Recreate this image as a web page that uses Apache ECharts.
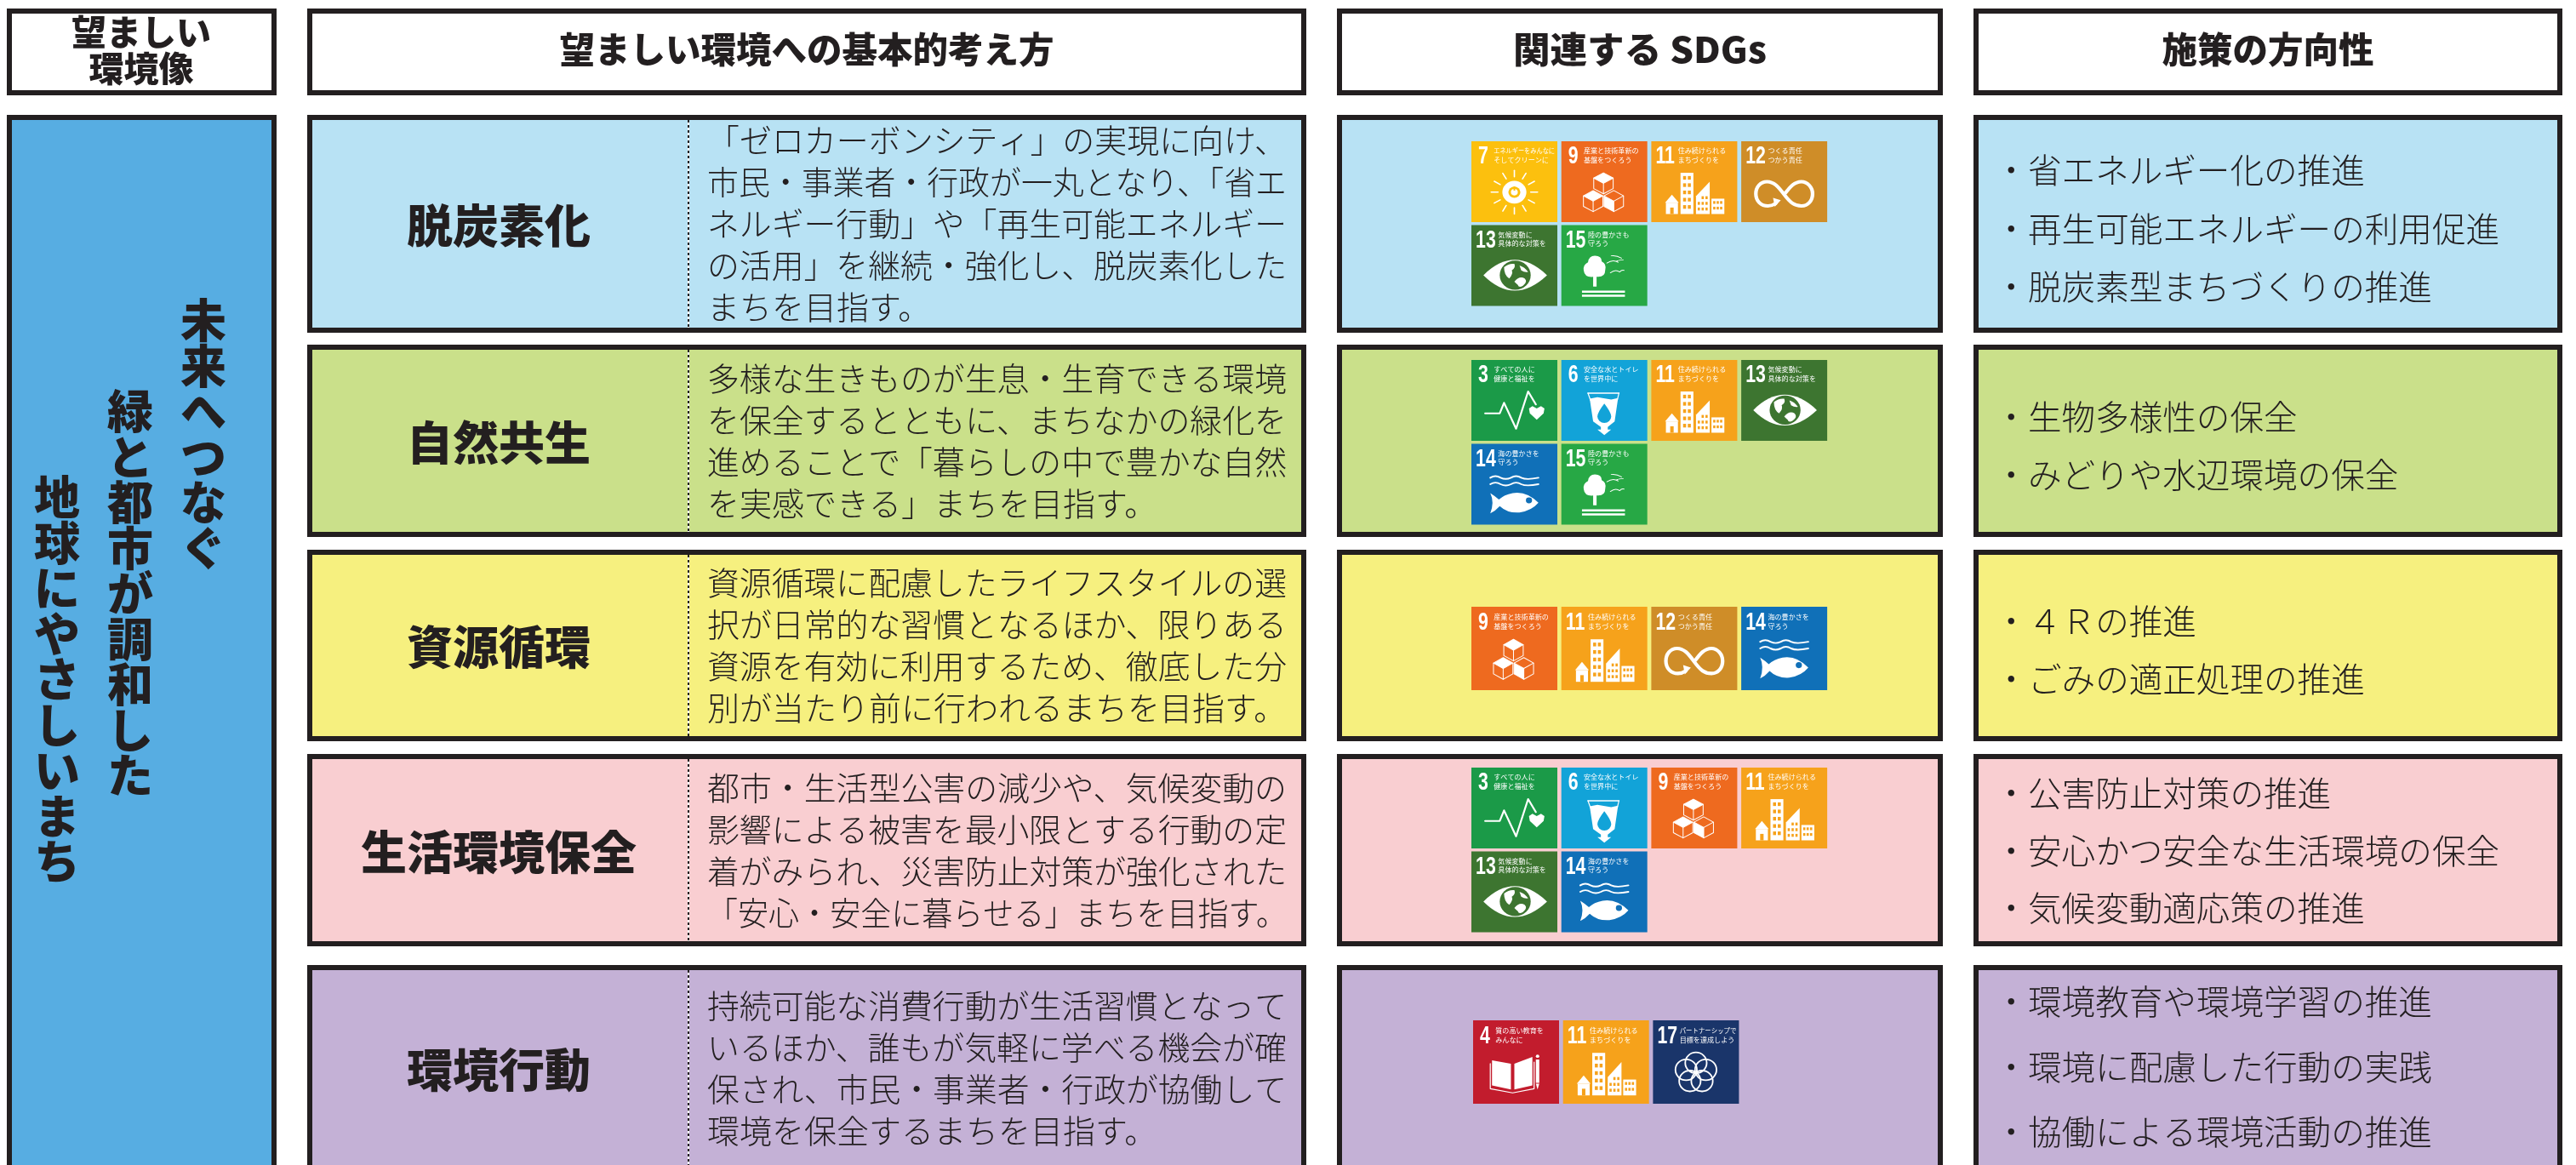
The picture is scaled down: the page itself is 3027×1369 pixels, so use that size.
<!DOCTYPE html>
<html lang="ja">
<head>
<meta charset="utf-8">
<title>望ましい環境像</title>
<style>
  html, body { margin: 0; padding: 0; background: #fff; }
  #main { width: 3027px; height: 1369px; }
</style>
<script src="https://cdn.jsdelivr.net/npm/echarts@6/dist/echarts.min.js"></script>
</head>
<body>
<div id="main"></div>
<script>
// ---- content ----
const headerLeft = ['望ましい', '環境像'];
const headers = ['望ましい環境への基本的考え方', '関連する SDGs', '施策の方向性'];
const visionColumns = ['未来へつなぐ', '緑と都市が調和した', '地球にやさしいまち'];
const rowNames = ['脱炭素化', '自然共生', '資源循環', '生活環境保全', '環境行動'];
const rowTexts = [
  ['「ゼロカーボンシティ」の実現に向け、', '市民・事業者・行政が一丸となり、「省エ', 'ネルギー行動」や「再生可能エネルギー', 'の活用」を継続・強化し、脱炭素化した', 'まちを目指す。'],
  ['多様な生きものが生息・生育できる環境', 'を保全するとともに、まちなかの緑化を', '進めることで「暮らしの中で豊かな自然', 'を実感できる」まちを目指す。'],
  ['資源循環に配慮したライフスタイルの選', '択が日常的な習慣となるほか、限りある', '資源を有効に利用するため、徹底した分', '別が当たり前に行われるまちを目指す。'],
  ['都市・生活型公害の減少や、気候変動の', '影響による被害を最小限とする行動の定', '着がみられ、災害防止対策が強化された', '「安心・安全に暮らせる」まちを目指す。'],
  ['持続可能な消費行動が生活習慣となって', 'いるほか、誰もが気軽に学べる機会が確', '保され、市民・事業者・行政が協働して', '環境を保全するまちを目指す。']
];
const rowGoals = [
  [7, 9, 11, 12, 13, 15],
  [3, 6, 11, 13, 14, 15],
  [9, 11, 12, 14],
  [3, 6, 9, 11, 13, 14],
  [4, 11, 17]
];
const rowMeasures = [
  ['・省エネルギー化の推進', '・再生可能エネルギーの利用促進', '・脱炭素型まちづくりの推進'],
  ['・生物多様性の保全', '・みどりや水辺環境の保全'],
  ['・４Ｒの推進', '・ごみの適正処理の推進'],
  ['・公害防止対策の推進', '・安心かつ安全な生活環境の保全', '・気候変動適応策の推進'],
  ['・環境教育や環境学習の推進', '・環境に配慮した行動の実践', '・協働による環境活動の推進']
];
const goalTitles = {
  3: ['すべての人に', '健康と福祉を'],
  4: ['質の高い教育を', 'みんなに'],
  6: ['安全な水とトイレ', 'を世界中に'],
  7: ['エネルギーをみんなに', 'そしてクリーンに'],
  9: ['産業と技術革新の', '基盤をつくろう'],
  11: ['住み続けられる', 'まちづくりを'],
  12: ['つくる責任', 'つかう責任'],
  13: ['気候変動に', '具体的な対策を'],
  14: ['海の豊かさを', '守ろう'],
  15: ['陸の豊かさも', '守ろう'],
  17: ['パートナーシップで', '目標を達成しよう']
};

// ---- styles ----
const INK = '#231f20';
const rowColors = ['#b8e2f4', '#cae08a', '#f6f07f', '#f9ced1', '#c4b1d6'];
const visionColor = '#57ade2';
const goalColors = {
  3: '#1b9a48', 4: '#c21c2d', 6: '#12a3d8', 7: '#fcc00e', 9: '#ee6a1f', 11: '#f6a21b',
  12: '#cf8d28', 13: '#3d7530', 14: '#1070b8', 15: '#27a845', 17: '#1a356a'
};
const JP = '"Noto Sans CJK JP", "Noto Sans", sans-serif';

// ---- layout (px) ----
const BORDER = 6;
const headerTop = 10, headerBottom = 112;
const headerStretch = [1, 1.05, 1];
const colLeft = [8, 361, 1571, 2319];
const colRight = [325, 1535, 2283, 3011];
const rowTop = [135, 405, 646, 886, 1134];
const rowBottom = [391, 631, 871, 1112, 1377];
const dividerX = 809;
const textX = 831, textWidth = 681, textPitch = 49;
const measureX = 2343.4;
const measureFirst = [200, 490, 730, 932, 1177];
const measurePitch = [68.5, 68, 68, 67.5, 76.5];
const tileLeft = [1729, 1729, 1729, 1729, 1731];
const tileTop = [166, 423, 713, 902, 1199];
const tileHeight = [95, 95, 98, 95, 98];
const tilePitchX = 105.7, tilePitchY = 98.5;

const measureCtx = document.createElement('canvas').getContext('2d');

function box(x1, y1, x2, y2, fill) {
  return [
    { type: 'rect', shape: { x: x1, y: y1, width: x2 - x1, height: y2 - y1 }, style: { fill: INK } },
    { type: 'rect', shape: { x: x1 + BORDER, y: y1 + BORDER, width: x2 - x1 - BORDER * 2, height: y2 - y1 - BORDER * 2 }, style: { fill: fill } }
  ];
}

function label(text, x, y, size, weight, align, extra) {
  return Object.assign({
    type: 'text', x: x, y: y,
    style: { text: text, fontSize: size, fontWeight: weight, fontFamily: JP, fill: INK, align: align || 'center', verticalAlign: 'middle' }
  }, extra || {});
}

// squeeze a line horizontally when it is wider than the room it has
function fitLabel(text, x, y, size, weight, maxWidth, fill) {
  measureCtx.font = weight + ' ' + size + 'px ' + JP;
  const w = measureCtx.measureText(text).width;
  const el = label(text, x, y, size, weight, 'left', { scaleX: w > maxWidth ? maxWidth / w : 1 });
  if (fill) el.style.fill = fill;
  return el;
}

// ---- SDG pictograms, drawn on a 100x100 tile ----
const white = { fill: '#fff' };
const line = w => ({ fill: 'none', stroke: '#fff', lineWidth: w, lineCap: 'round', lineJoin: 'round' });
// no width/height on the shape: the path stays in tile units
const path = (d, style) => ({ type: 'path', shape: { pathData: d }, style: style });
const dot = (cx, cy, r, style) => ({ type: 'circle', shape: { cx: cx, cy: cy, r: r }, style: style });
const block = (x, y, w, h, fill) => ({ type: 'rect', shape: { x: x, y: y, width: w, height: h }, style: { fill: fill || '#fff' } });
const poly = (pts, style) => ({ type: 'polygon', shape: { points: pts }, style: style });
const stroke = (pts, style) => ({ type: 'polyline', shape: { points: pts }, style: style });

function cube(cx, cy, r, faceFill) {
  const t = [cx, cy - r], tr = [cx + r * 0.87, cy - r / 2], br = [cx + r * 0.87, cy + r / 2];
  const b = [cx, cy + r], bl = [cx - r * 0.87, cy + r / 2], tl = [cx - r * 0.87, cy - r / 2], c = [cx, cy];
  const out = [];
  if (faceFill === 'top') out.push(poly([t, tr, c, tl], white));
  if (faceFill === 'left') out.push(poly([tl, c, b, bl], white));
  if (faceFill === 'right') out.push(poly([tr, c, b, br], white));
  out.push(poly([t, tr, br, b, bl, tl], line(1)), stroke([tl, c, tr], line(1)), stroke([c, b], line(1)));
  return out;
}

const pictograms = {
  3(color) {
    return [
      stroke([[16, 66], [33, 66], [38, 53], [52, 85], [66, 39], [75, 55]], line(2.2)),
      poly([[76, 74], [68, 66], [67, 60], [71, 57], [76, 60], [81, 57], [85, 60], [84, 66]], white)
    ];
  },
  4(color) {
    return [
      poly([[22, 48], [44, 52], [44, 83], [22, 78]], white),
      poly([[48, 52], [69, 44], [69, 78], [48, 83]], white),
      stroke([[20, 52], [20, 82], [46, 87], [71, 82], [71, 50]], line(1.2)),
      block(73, 47, 4, 28),
      poly([[73, 76], [77, 76], [75, 83]], white),
      dot(75, 43, 2, white)
    ];
  },
  6(color) {
    return [
      stroke([[31, 41], [67, 41]], line(1.6)),
      stroke([[31, 41], [34, 50]], line(1.2)),
      stroke([[67, 41], [65, 50]], line(1.2)),
      poly([[33, 48], [42, 46], [58, 49], [66, 47], [62, 76], [54, 83], [54, 86], [58, 86], [50, 93], [42, 86], [46, 86], [46, 83], [37, 76]], white),
      path('M50 54 Q58 65 58 70 A8 8 0 1 1 42 70 Q42 65 50 54 Z', { fill: color })
    ];
  },
  7(color) {
    const out = [dot(50, 63, 14, white), dot(50, 63, 7, { fill: color }), dot(50, 63, 4, white), block(49, 56, 2, 5, color)];
    for (let k = 0; k < 12; k++) {
      const a = k * Math.PI / 6;
      out.push(stroke([[50 + 19 * Math.cos(a), 63 + 19 * Math.sin(a)], [50 + 27 * Math.cos(a), 63 + 27 * Math.sin(a)]], line(1.6)));
    }
    return out;
  },
  9(color) {
    return [].concat(cube(49, 52, 13, 'top'), cube(37, 74, 13, 'top'), cube(61, 74, 13, 'left'));
  },
  11(color) {
    const out = [
      poly([[16, 76], [24, 66], [32, 76]], white), block(17, 76, 14, 14), block(22, 82, 4, 8, color),
      block(34, 39, 15, 51),
      poly([[52, 68], [68, 50], [68, 90], [52, 90]], white),
      block(70, 71, 15, 19)
    ];
    for (let r = 0; r < 5; r++) for (let c = 0; c < 2; c++) out.push(block(37 + c * 5.5, 43 + r * 9, 3.5, 4.5, color));
    for (let r = 0; r < 3; r++) for (let c = 0; c < 3; c++) if (c > 0 || r > 0) out.push(block(54 + c * 4.5, 68 + r * 7, 2.6, 3.6, color));
    for (let r = 0; r < 2; r++) for (let c = 0; c < 3; c++) out.push(block(72 + c * 4, 74 + r * 7, 2.6, 3.4, color));
    return out;
  },
  12(color) {
    return [
      path('M50 66 C43 56 38 50 30 50 C22 50 17 57 17 65 C17 74 23 80 31 80 C34 80 37 79 40 77 M50 66 C57 76 62 80 70 80 C78 80 83 73 83 65 C83 57 77 50 70 50 C62 50 57 56 50 66', line(4.2)),
      poly([[37, 70], [46, 73], [39, 81]], white)
    ];
  },
  13(color) {
    return [
      path('M14 62 Q50 24 88 62 Q50 100 14 62 Z', white),
      dot(51, 62, 18, { fill: color }),
      path('M38 52 Q44 47 50 48 Q52 53 47 56 Q49 60 44 66 Q38 62 38 52 Z M56 50 Q62 52 66 58 Q62 59 58 56 Z M50 70 Q56 62 62 66 Q66 70 60 75 Q55 78 54 74 Q52 72 50 70 Z', white)
    ];
  },
  14(color) {
    const wave = y => 'M22 ' + y + ' Q28 ' + (y - 4) + ' 34 ' + y + ' Q40 ' + (y + 3) + ' 46 ' + y + ' Q52 ' + (y - 4) + ' 58 ' + y + ' Q64 ' + (y + 3) + ' 78 ' + y;
    return [
      path(wave(42), line(2)),
      path(wave(50), line(2)),
      path('M78 73 Q64 58 48 61 Q38 63 32 69 Q28 65 22 61 Q27 72 22 86 Q28 83 33 77 Q42 86 56 85 Q70 83 78 73 Z', white),
      dot(67, 70, 3.6, { fill: color })
    ];
  },
  15(color) {
    return [
      path('M39 38 Q47 38 47 45 Q53 48 51 56 Q51 64 43 64 L41 64 L41 76 L37 76 L37 64 Q27 65 26 56 Q25 49 31 46 Q32 38 39 38 Z', white),
      path('M53 47 Q60 42 66 46 Q61 44 72 43', line(1)),
      path('M58 38 Q64 37 70 41', line(1)),
      path('M57 59 Q63 54 68 58 Q70 55 73 56', line(1)),
      block(24, 81, 50, 2.6),
      block(24, 86, 50, 2.6)
    ];
  },
  17(color) {
    const out = [];
    for (let k = 0; k < 5; k++) {
      const a = -Math.PI / 2 + k * 2 * Math.PI / 5;
      out.push(dot(50 + 12 * Math.cos(a), 63 + 12 * Math.sin(a), 12.5, { fill: 'none', stroke: '#fff', lineWidth: 1.8 }));
    }
    return out;
  }
};

function tile(goal, x, y, w, h) {
  const color = goalColors[goal];
  const two = goal > 9;
  const titleX = two ? 31 : 26;
  const children = [block(0, 0, 100, 100, color)].concat(pictograms[goal](color));
  children.push({
    type: 'text', x: two ? 5 : 8, y: 19, scaleX: 0.68,
    style: { text: String(goal), fontSize: 31, fontWeight: 'bold', fontFamily: '"Liberation Sans", sans-serif', fill: '#fff', align: 'left', verticalAlign: 'middle' }
  });
  goalTitles[goal].forEach((t, i) => {
    children.push(fitLabel(t, titleX, 12 + i * 11, 8, 'normal', 100 - titleX - 3, '#fff'));
  });
  return { type: 'group', x: x, y: y, scaleX: w / 100, scaleY: h / 100, children: children };
}

// ---- assemble ----
const elements = [];

elements.push(...box(colLeft[0], headerTop, colRight[0], headerBottom, '#fff'));
elements.push(label(headerLeft[0], 166, 37, 41, 900));
elements.push(label(headerLeft[1], 166, 80, 41, 900));
headers.forEach((h, i) => {
  elements.push(...box(colLeft[i + 1], headerTop, colRight[i + 1], headerBottom, '#fff'));
  elements.push(label(h, (colLeft[i + 1] + colRight[i + 1]) / 2, 58, 41.5, 900, 'center', { scaleX: headerStretch[i] }));
});

// the vision column runs off the bottom of the page
elements.push(...box(colLeft[0], rowTop[0], colRight[0], 1377, visionColor));
const visionX = [239, 153, 67], visionTop = [377, 484, 585];
visionColumns.forEach((t, i) => {
  elements.push({
    type: 'text', x: visionX[i], y: visionTop[i] - 27,
    style: { text: t.split('').join('\n'), fontSize: 54, lineHeight: 53.5, fontWeight: 900, fontFamily: JP, fill: INK, align: 'center', verticalAlign: 'top' }
  });
});

rowNames.forEach((name, i) => {
  const top = rowTop[i], bottom = rowBottom[i], color = rowColors[i];
  const middle = (top + bottom) / 2;

  elements.push(...box(colLeft[1], top, colRight[1], bottom, color));
  elements.push({ type: 'line', shape: { x1: dividerX, y1: top + BORDER, x2: dividerX, y2: bottom - BORDER }, style: { stroke: '#fff', lineWidth: 2 } });
  elements.push({ type: 'line', shape: { x1: dividerX, y1: top + BORDER, x2: dividerX, y2: bottom - BORDER }, style: { stroke: INK, lineWidth: 2, lineDash: [3, 3] } });
  elements.push(label(name, 586, middle + 2, 54, 900));

  const lines = rowTexts[i];
  lines.forEach((t, k) => {
    elements.push(fitLabel(t, textX, middle + (k - (lines.length - 1) / 2) * textPitch, 38, 300, textWidth));
  });

  elements.push(...box(colLeft[2], top, colRight[2], bottom, color));
  rowGoals[i].forEach((goal, k) => {
    const c = k % 4, r = Math.floor(k / 4);
    elements.push(tile(goal, tileLeft[i] + c * tilePitchX, tileTop[i] + r * tilePitchY, 101, tileHeight[i]));
  });

  elements.push(...box(colLeft[3], top, colRight[3], bottom, color));
  rowMeasures[i].forEach((t, k) => {
    elements.push(label(t, measureX, measureFirst[i] + k * measurePitch[i], 39.6, 300, 'left'));
  });
});

const myChart = echarts.init(document.getElementById('main'), null, { renderer: 'canvas' });
myChart.setOption({
  animation: false,
  backgroundColor: '#fff',
  series: [{
    type: 'custom',
    coordinateSystem: 'none',
    silent: true,
    clip: false,
    data: [rowNames.length],
    renderItem() {
      return { type: 'group', children: elements };
    }
  }]
});
</script>
</body>
</html>
